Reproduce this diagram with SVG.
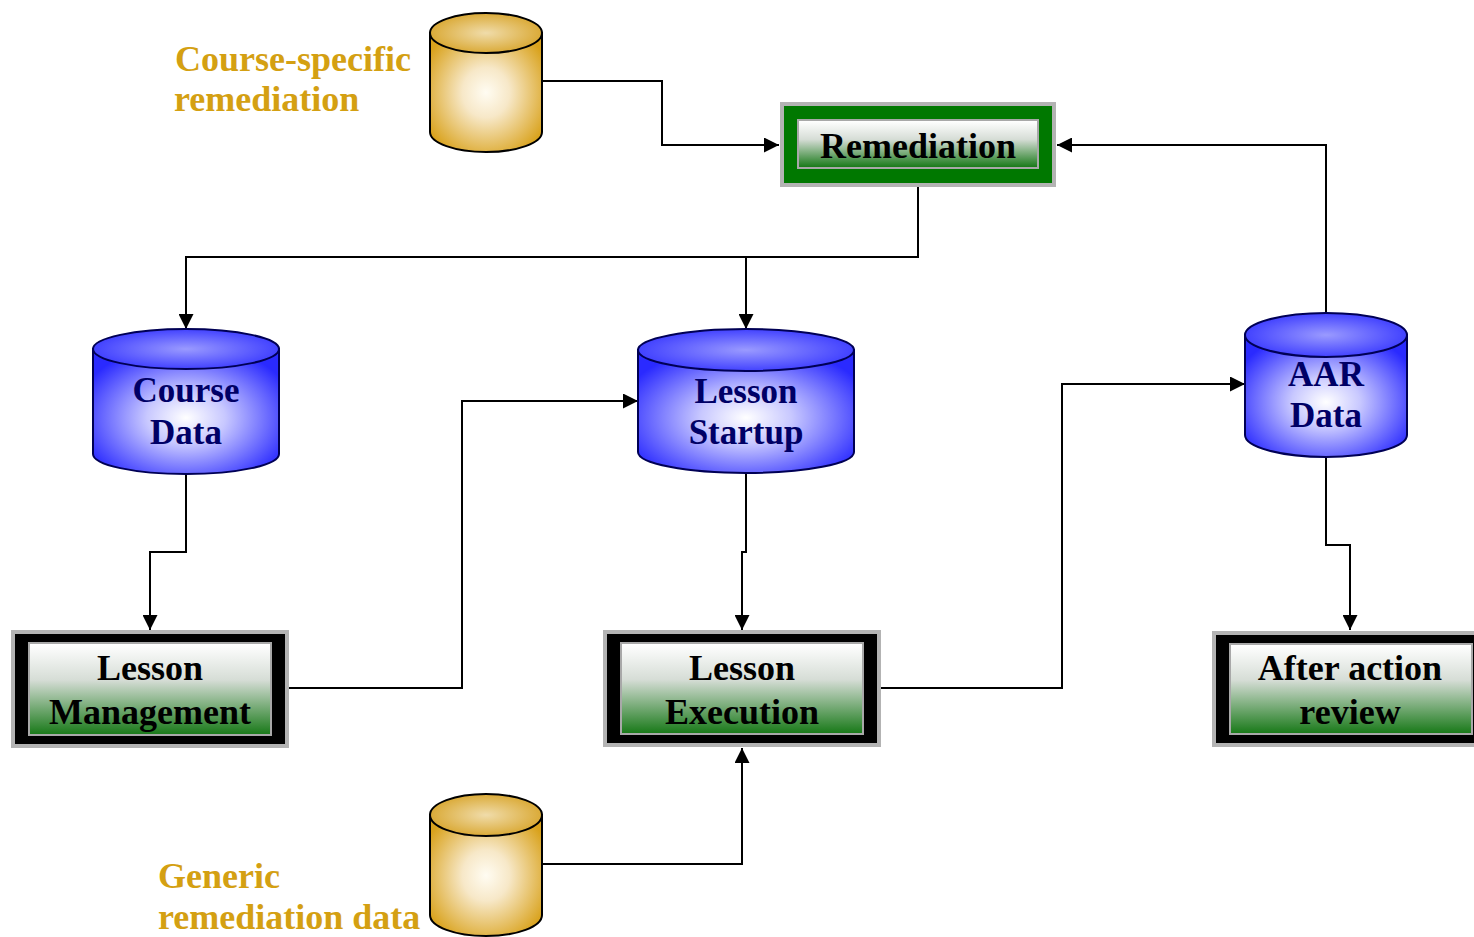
<svg xmlns="http://www.w3.org/2000/svg" width="1474" height="937" viewBox="0 0 1474 937">
<defs>
<radialGradient id="blueG" cx="50%" cy="55%" r="60%">
<stop offset="0" stop-color="#ffffff"/>
<stop offset="0.35" stop-color="#c8c8ff"/>
<stop offset="1" stop-color="#2a2aff"/>
</radialGradient>
<radialGradient id="blueTop" cx="50%" cy="50%" r="60%">
<stop offset="0" stop-color="#9a9aff"/>
<stop offset="1" stop-color="#3030ff"/>
</radialGradient>
<radialGradient id="goldG" cx="50%" cy="50%" r="60%">
<stop offset="0" stop-color="#fffcf2"/>
<stop offset="0.35" stop-color="#f7e8c8"/>
<stop offset="1" stop-color="#d9a21c"/>
</radialGradient>
<radialGradient id="goldTop" cx="50%" cy="50%" r="60%">
<stop offset="0" stop-color="#f0dcaa"/>
<stop offset="1" stop-color="#d6a020"/>
</radialGradient>
<linearGradient id="boxG" x1="0" y1="0" x2="0" y2="1">
<stop offset="0" stop-color="#ffffff"/>
<stop offset="0.4" stop-color="#d6ddd6"/>
<stop offset="1" stop-color="#1a7a1a"/>
</linearGradient>
<marker id="arr" viewBox="0 0 10 10" refX="10" refY="5" markerWidth="15" markerHeight="15" markerUnits="userSpaceOnUse" orient="auto">
<path d="M0,0 L10,5 L0,10 Z" fill="#000"/>
</marker>
<style>
.conn{fill:none;stroke:#000;stroke-width:2;marker-end:url(#arr)}
.outer{fill:#b3b3b3}
.band{fill:#000}
.bandG{fill:#007800}
.inl{fill:#a8a8a8}
.inner{fill:url(#boxG)}
.bt{font-family:"Liberation Serif",serif;font-weight:bold;font-size:36px;fill:#000;text-anchor:middle}
.ct{font-family:"Liberation Serif",serif;font-weight:bold;font-size:35px;fill:#000066;text-anchor:middle}
.gt{font-family:"Liberation Serif",serif;font-weight:bold;font-size:36px;fill:#d4a012}
.cylB{fill:url(#blueG);stroke:#000055;stroke-width:2}
.cylBt{fill:url(#blueTop);stroke:#000055;stroke-width:2}
.cylG{fill:url(#goldG);stroke:#000;stroke-width:2}
.cylGt{fill:url(#goldTop);stroke:#000;stroke-width:2}
</style>
</defs>

<g id="connectors">
<polyline class="conn" points="542,81 662,81 662,145 779,145"/>
<polyline class="conn" points="1326,313 1326,145 1057,145"/>
<polyline class="conn" points="918,187 918,257 186,257 186,329"/>
<polyline class="conn" points="746,257 746,329"/>
<polyline class="conn" points="186,473 186,552 150,552 150,630"/>
<polyline class="conn" points="289,688 462,688 462,401 638,401"/>
<polyline class="conn" points="746,473 746,552 742,552 742,630"/>
<polyline class="conn" points="881,688 1062,688 1062,384 1245,384"/>
<polyline class="conn" points="1326,457 1326,545 1350,545 1350,630"/>
<polyline class="conn" points="542,864 742,864 742,748"/>
</g>

<g id="course-specific-db">
<path class="cylG" d="M430,33 L430,132 A56,20 0 0 0 542,132 L542,33 Z"/>
<ellipse class="cylGt" cx="486" cy="33" rx="56" ry="20"/>
</g>
<g id="course-specific-label">
<text class="gt" x="175" y="71">Course-specific</text>
<text class="gt" x="174" y="111">remediation</text>
</g>

<g id="generic-db">
<path class="cylG" d="M430,815 L430,915 A56,21 0 0 0 542,915 L542,815 Z"/>
<ellipse class="cylGt" cx="486" cy="815" rx="56" ry="21"/>
</g>
<g id="generic-label">
<text class="gt" x="158" y="888">Generic</text>
<text class="gt" x="158" y="929">remediation data</text>
</g>

<g id="remediation">
<rect class="outer" x="780" y="102" width="276" height="85"/>
<rect class="bandG" x="784" y="106" width="268" height="77"/>
<rect class="inl" x="797" y="119" width="242" height="50"/>
<rect class="inner" x="799" y="121" width="238" height="46"/>
<text class="bt" x="918" y="158">Remediation</text>
</g>

<g id="course-data">
<path class="cylB" d="M93,349 L93,454 A93,20 0 0 0 279,454 L279,349 Z"/>
<ellipse class="cylBt" cx="186" cy="349" rx="93" ry="20"/>
<text class="ct" x="186" y="402">Course</text>
<text class="ct" x="186" y="444">Data</text>
</g>

<g id="lesson-startup">
<path class="cylB" d="M638,350 L638,452 A108,21 0 0 0 854,452 L854,350 Z"/>
<ellipse class="cylBt" cx="746" cy="350" rx="108" ry="21"/>
<text class="ct" x="746" y="403">Lesson</text>
<text class="ct" x="746" y="444">Startup</text>
</g>

<g id="aar-data">
<path class="cylB" d="M1245,335 L1245,435 A81,22 0 0 0 1407,435 L1407,335 Z"/>
<ellipse class="cylBt" cx="1326" cy="335" rx="81" ry="22"/>
<text class="ct" x="1326" y="386">AAR</text>
<text class="ct" x="1326" y="427">Data</text>
</g>

<g id="lesson-management">
<rect class="outer" x="11" y="630" width="278" height="118"/>
<rect class="band" x="15" y="634" width="270" height="110"/>
<rect class="inl" x="28" y="642" width="244" height="94"/>
<rect class="inner" x="30" y="644" width="240" height="90"/>
<text class="bt" x="150" y="680">Lesson</text>
<text class="bt" x="150" y="724">Management</text>
</g>

<g id="lesson-execution">
<rect class="outer" x="603" y="630" width="278" height="117"/>
<rect class="band" x="607" y="634" width="270" height="109"/>
<rect class="inl" x="620" y="642" width="244" height="93"/>
<rect class="inner" x="622" y="644" width="240" height="89"/>
<text class="bt" x="742" y="680">Lesson</text>
<text class="bt" x="742" y="724">Execution</text>
</g>

<g id="after-action-review">
<rect class="outer" x="1212" y="631" width="278" height="116"/>
<rect class="band" x="1216" y="635" width="270" height="108"/>
<rect class="inl" x="1229" y="643" width="244" height="92"/>
<rect class="inner" x="1231" y="645" width="240" height="88"/>
<text class="bt" x="1350" y="680">After action</text>
<text class="bt" x="1350" y="724">review</text>
</g>
</svg>
